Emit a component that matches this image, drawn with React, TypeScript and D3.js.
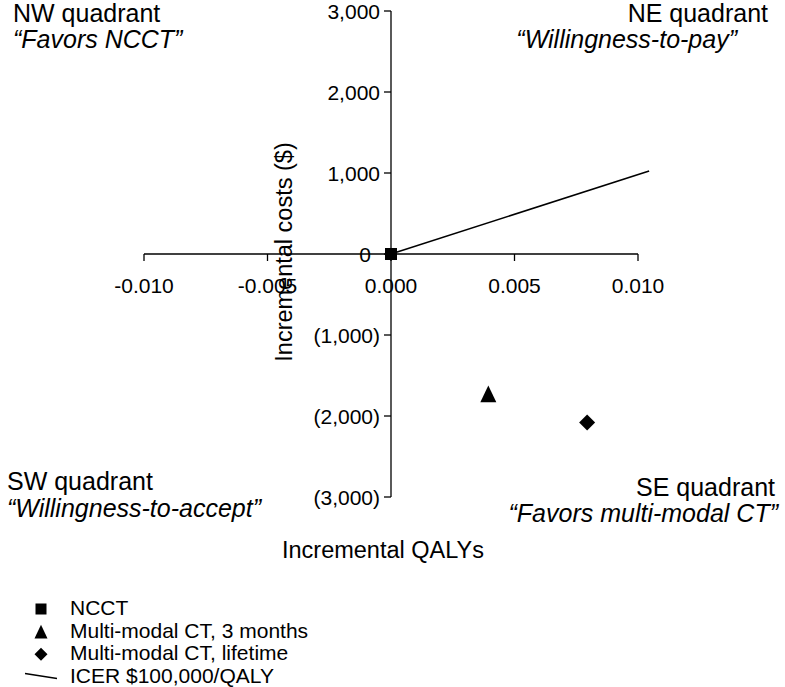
import React from "react";
import * as d3 from "d3";

const xTicks = [-0.01, -0.005, 0, 0.005, 0.01];
const yTicks = [3000, 2000, 1000, 0, -1000, -2000, -3000];

const strategies = ["NCCT", "Multi-modal CT, 3 months", "Multi-modal CT, lifetime"];
const qalys = [0, 0.00394, 0.00794];
const costs = [0, -1728, -2080];
const symbols = ["square", "triangle", "diamond"];

const icerQalys = [0, 0.01045];
const icerCosts = [0, 1025];
const icerLabel = "ICER $100,000/QALY";

const W = 785;
const H = 687;
const FONT = "'Liberation Sans', Arial, sans-serif";

function fmtX(v: number) {
  return d3.format(".3f")(v).replace("\u2212", "-");
}

function fmtY(v: number) {
  const s = d3.format(",")(Math.abs(v));
  return v < 0 ? `(${s})` : s;
}

function Marker({ kind, cx, cy, s }: { kind: string; cx: number; cy: number; s: number }) {
  if (kind === "square") {
    return <rect x={cx - s / 2} y={cy - s / 2} width={s} height={s} fill="#000" />;
  }
  if (kind === "triangle") {
    const h = s * 1.05;
    return (
      <path
        d={`M${cx},${cy - h / 2} L${cx + s / 2},${cy + h / 2} L${cx - s / 2},${cy + h / 2} Z`}
        fill="#000"
      />
    );
  }
  return (
    <path
      d={`M${cx},${cy - s / 2} L${cx + s / 2},${cy} L${cx},${cy + s / 2} L${cx - s / 2},${cy} Z`}
      fill="#000"
    />
  );
}

export default function App() {
  const x = d3.scaleLinear().domain([-0.01, 0.01]).range([144, 638]);
  const y = d3.scaleLinear().domain([-3000, 3000]).range([497, 11]);
  const line = d3
    .line<number>()
    .x((d) => x(icerQalys[d]))
    .y((d) => y(icerCosts[d]));

  const x0 = x(0);
  const y0 = y(0);

  return (
    <svg
      width={W}
      height={H}
      style={{ position: "absolute", left: 0, top: 0, background: "#fff" }}
      fontFamily={FONT}
    >
      <rect x={0} y={0} width={W} height={H} fill="#fff" />
      {/* x axis */}
      <line x1={x(-0.01)} x2={x(0.01)} y1={y0} y2={y0} stroke="#000" strokeWidth={1.3} />
      {xTicks.map((t) => (
        <g key={"xt" + t}>
          <line x1={x(t)} x2={x(t)} y1={y0} y2={y0 + 7} stroke="#000" strokeWidth={1.3} />
          <text x={x(t)} y={293} textAnchor="middle" fontSize={21}>
            {fmtX(t)}
          </text>
        </g>
      ))}
      {/* y axis */}
      <line x1={x0} x2={x0} y1={y(3000)} y2={y(-3000)} stroke="#000" strokeWidth={1.3} />
      {yTicks.map((t) => (
        <g key={"yt" + t}>
          <line x1={x0 - 7} x2={x0} y1={y(t)} y2={y(t)} stroke="#000" strokeWidth={1.3} />
          <text x={t === 0 ? 371 : 380} y={y(t) + 7.5} textAnchor="end" fontSize={21}>
            {fmtY(t)}
          </text>
        </g>
      ))}
      {/* ICER line */}
      <path d={line([0, 1]) || ""} fill="none" stroke="#000" strokeWidth={1.6} />
      {/* points */}
      {strategies.map((s, i) => (
        <Marker key={s} kind={symbols[i]} cx={x(qalys[i])} cy={y(costs[i])} s={i === 0 ? 12 : 16} />
      ))}
      {/* axis titles */}
      <text x={383} y={558} textAnchor="middle" fontSize={23.5}>
        Incremental QALYs
      </text>
      <text
        transform={`translate(292,252) rotate(-90)`}
        textAnchor="middle"
        fontSize={23.5}
      >
        Incremental costs ($)
      </text>
      {/* quadrant labels */}
      <text x={13} y={22} fontSize={25}>NW quadrant</text>
      <text x={13} y={48} fontSize={25} fontStyle="italic">“Favors NCCT”</text>
      <text x={768} y={22} fontSize={25} textAnchor="end">NE quadrant</text>
      <text x={737} y={48} fontSize={25} fontStyle="italic" textAnchor="end">“Willingness-to-pay”</text>
      <text x={7} y={490} fontSize={25}>SW quadrant</text>
      <text x={7} y={517} fontSize={25} fontStyle="italic">“Willingness-to-accept”</text>
      <text x={775} y={496} fontSize={25} textAnchor="end">SE quadrant</text>
      <text x={778} y={522} fontSize={25} fontStyle="italic" textAnchor="end">“Favors multi-modal CT”</text>
      {/* legend */}
      {strategies.map((s, i) => (
        <g key={"lg" + s}>
          <Marker kind={symbols[i]} cx={41} cy={609 + i * 22.6} s={i === 0 ? 11 : 13} />
          <text x={70} y={615 + i * 22.6} fontSize={21}>{s}</text>
        </g>
      ))}
      <line x1={25} y1={673.5} x2={57} y2={678.5} stroke="#000" strokeWidth={1.4} />
      <text x={70} y={683} fontSize={21}>{icerLabel}</text>
    </svg>
  );
}
